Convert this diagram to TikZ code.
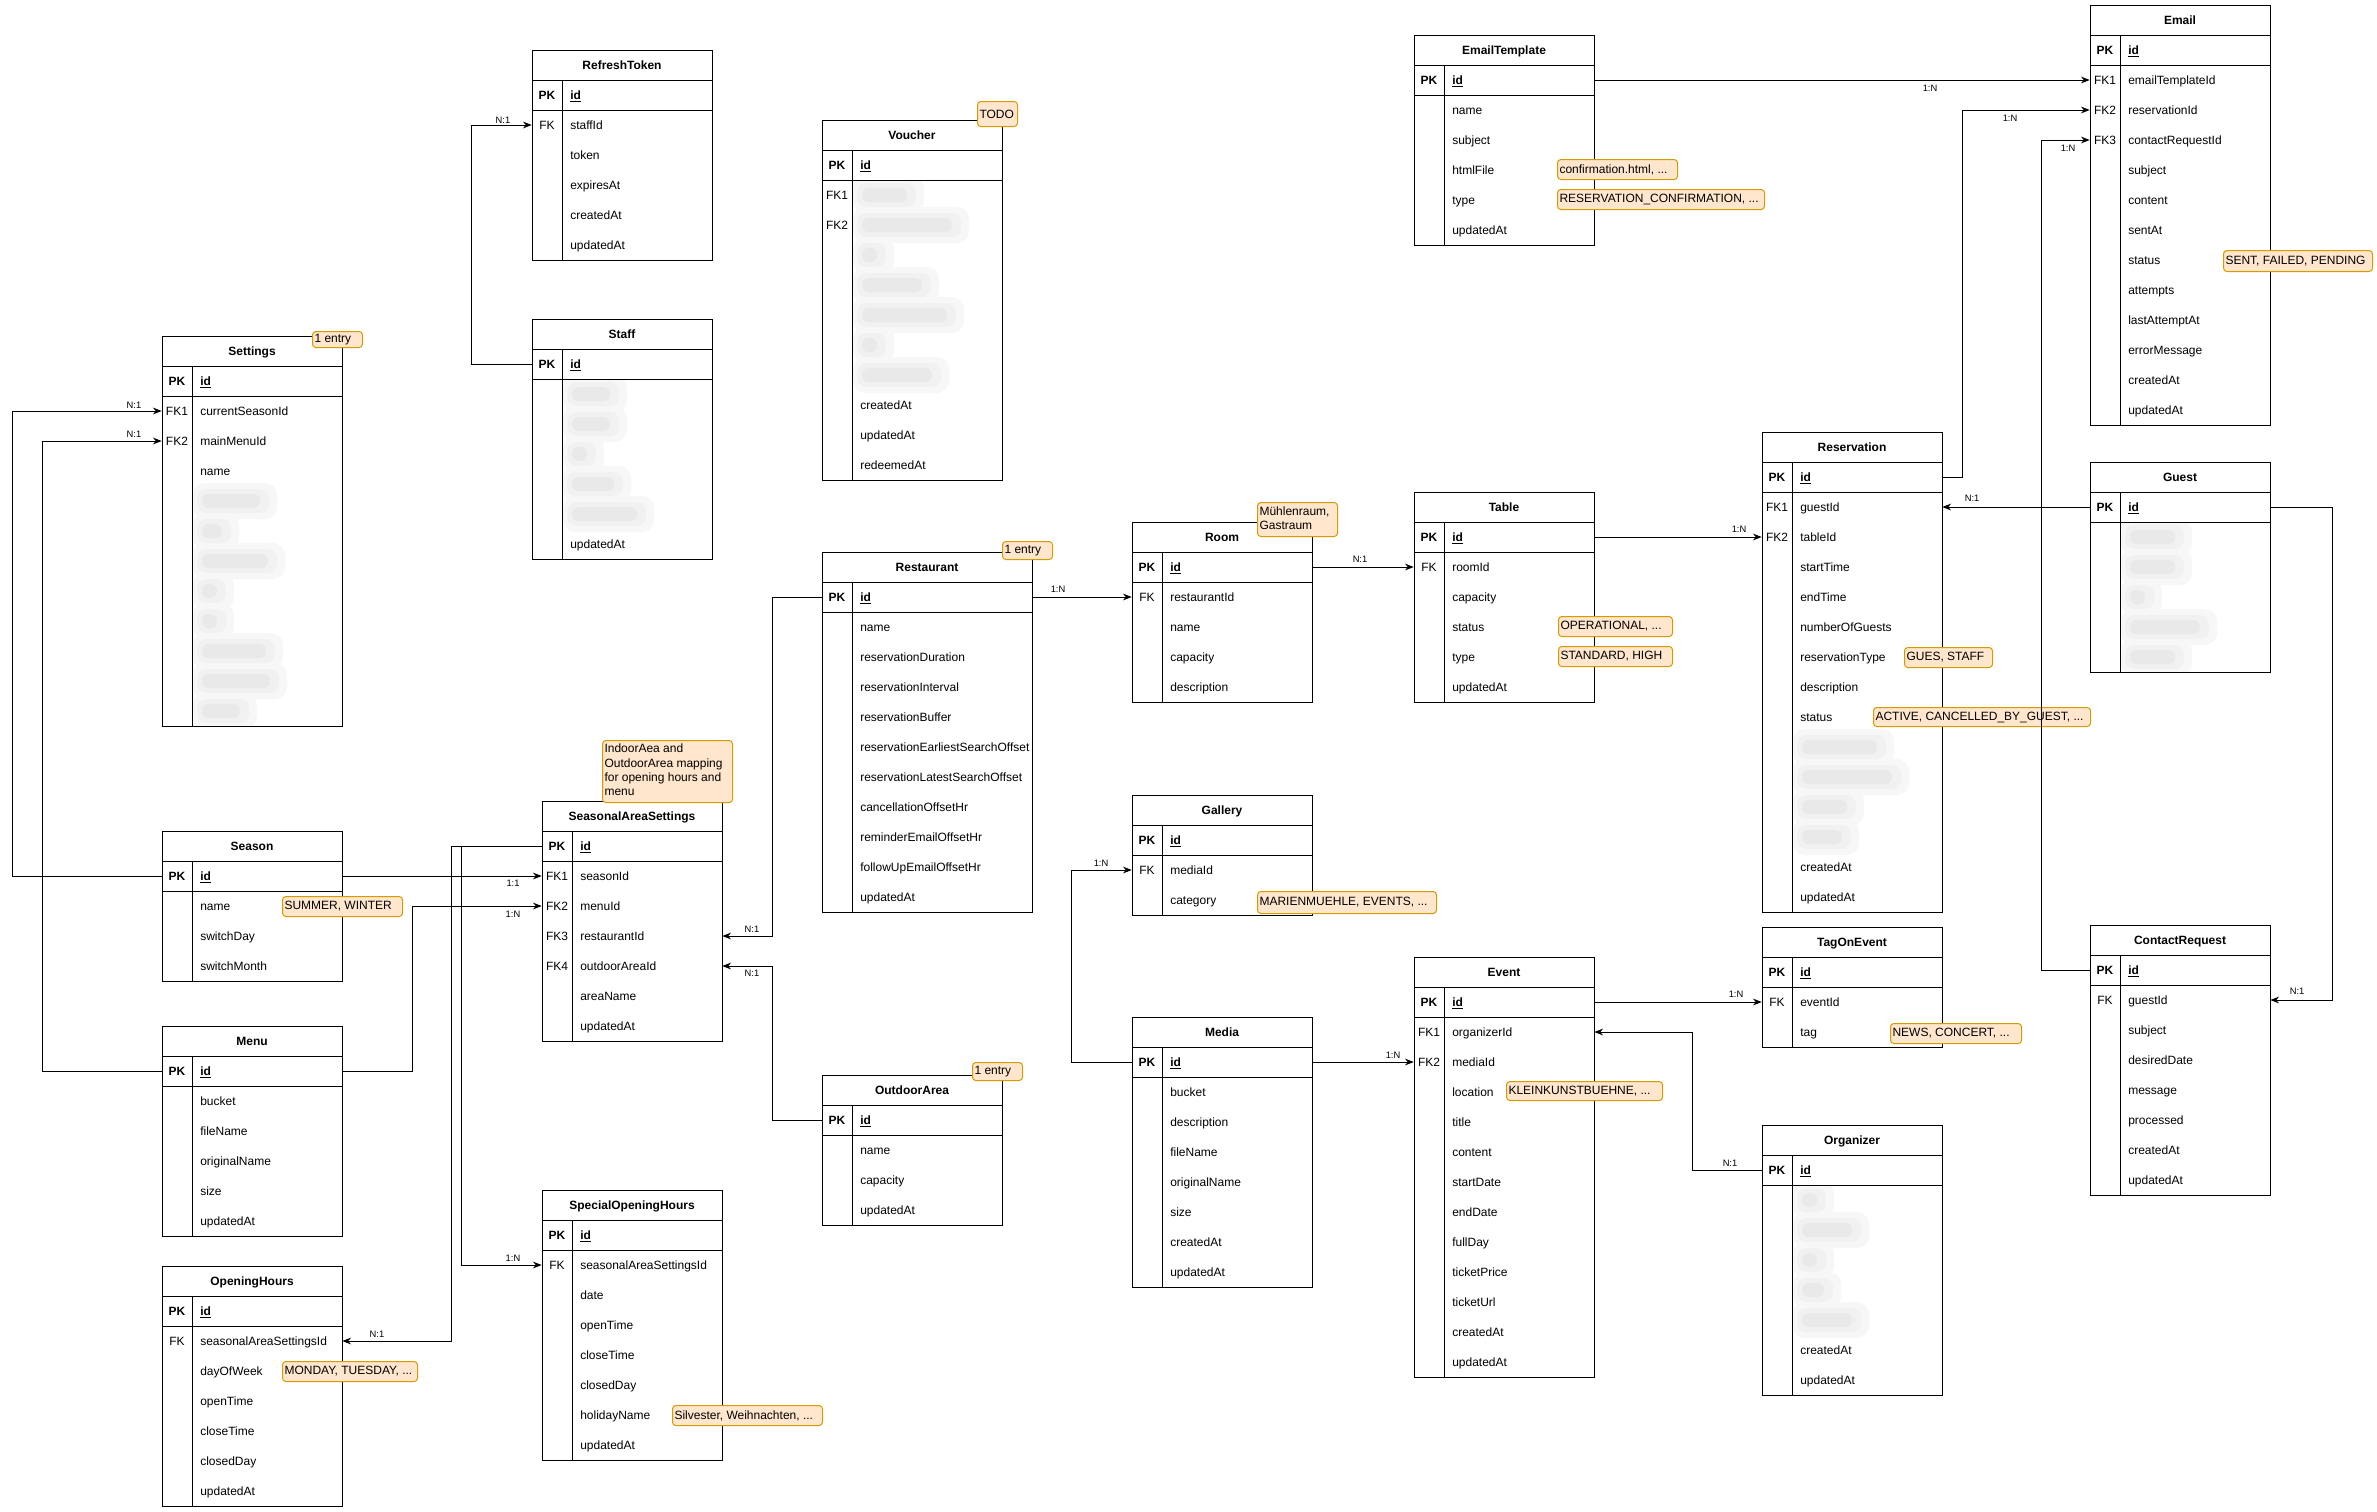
\documentclass[tikz,border=0pt]{standalone}
\usepackage{fontspec}
\setmainfont{Liberation Sans}
\usetikzlibrary{arrows.meta}
\definecolor{notefill}{HTML}{FFE6CC}
\definecolor{notedraw}{HTML}{D79B00}
\tikzset{
 tab/.style={draw=black, line width=0.75pt},
 hdr/.style={font=\fontsize{9}{10.8}\selectfont\bfseries, inner sep=0pt, anchor=base},
 keyt/.style={font=\fontsize{9}{10.8}\selectfont, inner sep=0pt, anchor=base},
 pkt/.style={font=\fontsize{9}{10.8}\selectfont\bfseries, inner sep=0pt, anchor=base},
 fldt/.style={font=\fontsize{9}{10.8}\selectfont, inner sep=0pt, anchor=base west},
 idt/.style={font=\fontsize{9}{10.8}\selectfont\bfseries, inner sep=0pt, anchor=base west},
 slot/.style={inner sep=0pt, minimum height=22.5pt, draw=none},
 conn/.style={draw, line width=0.75pt, -{Stealth[length=6.5pt,width=5pt,inset=2pt]}},
 lab/.style={font=\fontsize{7}{8}\selectfont, inner sep=0pt},
 note/.style={draw=notedraw, fill=notefill, line width=0.75pt, rounded corners=2.5pt,
   inner xsep=1.5pt, inner ysep=0pt, anchor=north west, font=\fontsize{9}{10.8}\selectfont},
 blobhalo/.style={fill=black!3, rounded corners=9pt},
 blobout/.style={fill=black!5.5, rounded corners=7pt},
 blobin/.style={fill=black!8.5, rounded corners=5pt},
}
\newcommand\ertab[6]{%
 \def\tn{#1}\def\tx{#2}\def\ty{#3}\def\tw{#4}%
 \pgfmathsetmacro\tabh{60+30*#5}%
 \pgfmathsetmacro\sw{#4*0.75}%
 \draw[tab] (#2,#3) rectangle ++(#4,\tabh);
 \draw[tab] (#2,#3+30) -- ++(#4,0) (#2,#3+60) -- ++(#4,0) (#2+30,#3+30) -- (#2+30,#3+\tabh);
 \node[hdr] (#1-h) at (#2+#4/2,#3+19.3) {#6};
 \node[pkt] (#1-pk) at (#2+15,#3+49.3) {PK};
 \node[idt] (#1-id) at (#2+38,#3+49.3) {\underline{id}};
 \foreach \i in {0,...,#5}{\node[slot, minimum width=\sw pt] (#1-\i) at (#2+#4/2,#3+45+30*\i) {};}
}
\newcommand\rows[1]{%
 \foreach \i/\k/\f in {#1}{%
  \node[keyt] (\tn-k\i) at (\tx+15,\ty+49.3+30*\i) {\k};
  \node[fldt] (\tn-f\i) at (\tx+38,\ty+49.3+30*\i) {\f};
 }}
\newcommand\blobs[1]{%
 \begin{scope}
 \clip (\tx+31,\ty+61) rectangle (\tx+\tw-1,\ty+\tabh-1);
 \foreach \i/\w in {#1}{%
  \fill[blobhalo] (\tx+31,\ty+45+30*\i-18) rectangle ++(\w+26,36);}
 \foreach \i/\w in {#1}{%
  \fill[blobout] (\tx+35,\ty+45+30*\i-12) rectangle ++(\w+14,24);}
 \foreach \i/\w in {#1}{%
  \fill[blobin] (\tx+40,\ty+45+30*\i-7) rectangle ++(\w,14);}
 \end{scope}
 }
\newcommand\note[6]{%
 \pgfmathsetmacro\nw{(#4-4)*0.75}\pgfmathsetmacro\nh{#5*0.75}%
 \node[note, minimum height=\nh pt] (#1) at (#2,#3) {\makebox[\nw pt][l]{#6}};}
\begin{document}
\begin{tikzpicture}[x=0.75pt,y=-0.75pt]
\fill[white] (0,0) rectangle (2377,1511);
\useasboundingbox (0,0) rectangle (2377,1511);

% ---------- tables ----------
\ertab{refreshtoken}{532}{50}{180}{5}{RefreshToken}
\rows{1/FK/staffId, 2/{}/token, 3/{}/expiresAt, 4/{}/createdAt, 5/{}/updatedAt}

\ertab{staff}{532}{319}{180}{6}{Staff}
\blobs{1/38, 2/38, 3/15, 4/42, 5/65}
\rows{6/{}/updatedAt}

\ertab{voucher}{822}{120}{180}{10}{Voucher}
\blobs{1/45, 2/90, 3/15, 4/60, 5/85, 6/15, 7/70}
\rows{1/FK1/{}, 2/FK2/{}, 8/{}/createdAt, 9/{}/updatedAt, 10/{}/redeemedAt}

\ertab{settings}{162}{336}{180}{11}{Settings}
\blobs{4/58, 5/20, 6/66, 7/15, 8/15, 9/64, 10/68, 11/38}
\rows{1/FK1/currentSeasonId, 2/FK2/mainMenuId, 3/{}/name}

\ertab{season}{162}{831}{180}{3}{Season}
\rows{1/{}/name, 2/{}/switchDay, 3/{}/switchMonth}

\ertab{menu}{162}{1026}{180}{5}{Menu}
\rows{1/{}/bucket, 2/{}/fileName, 3/{}/originalName, 4/{}/size, 5/{}/updatedAt}

\ertab{openinghours}{162}{1266}{180}{6}{OpeningHours}
\rows{1/FK/seasonalAreaSettingsId, 2/{}/dayOfWeek, 3/{}/openTime, 4/{}/closeTime, 5/{}/closedDay, 6/{}/updatedAt}

\ertab{sas}{542}{801}{180}{6}{SeasonalAreaSettings}
\rows{1/FK1/seasonId, 2/FK2/menuId, 3/FK3/restaurantId, 4/FK4/outdoorAreaId, 5/{}/areaName, 6/{}/updatedAt}

\ertab{soh}{542}{1190}{180}{7}{SpecialOpeningHours}
\rows{1/FK/seasonalAreaSettingsId, 2/{}/date, 3/{}/openTime, 4/{}/closeTime, 5/{}/closedDay, 6/{}/holidayName, 7/{}/updatedAt}

\ertab{restaurant}{822}{552}{210}{10}{Restaurant}
\rows{1/{}/name, 2/{}/reservationDuration, 3/{}/reservationInterval, 4/{}/reservationBuffer, 5/{}/reservationEarliestSearchOffset, 6/{}/reservationLatestSearchOffset, 7/{}/cancellationOffsetHr, 8/{}/reminderEmailOffsetHr, 9/{}/followUpEmailOffsetHr, 10/{}/updatedAt}

\ertab{outdoorarea}{822}{1075}{180}{3}{OutdoorArea}
\rows{1/{}/name, 2/{}/capacity, 3/{}/updatedAt}

\ertab{room}{1132}{522}{180}{4}{Room}
\rows{1/FK/restaurantId, 2/{}/name, 3/{}/capacity, 4/{}/description}

\ertab{gallery}{1132}{795}{180}{2}{Gallery}
\rows{1/FK/mediaId, 2/{}/category}

\ertab{media}{1132}{1017}{180}{7}{Media}
\rows{1/{}/bucket, 2/{}/description, 3/{}/fileName, 4/{}/originalName, 5/{}/size, 6/{}/createdAt, 7/{}/updatedAt}

\ertab{tbl}{1414}{492}{180}{5}{Table}
\rows{1/FK/roomId, 2/{}/capacity, 3/{}/status, 4/{}/type, 5/{}/updatedAt}

\ertab{emailtemplate}{1414}{35}{180}{5}{EmailTemplate}
\rows{1/{}/name, 2/{}/subject, 3/{}/htmlFile, 4/{}/type, 5/{}/updatedAt}

\ertab{event}{1414}{957}{180}{12}{Event}
\rows{1/FK1/organizerId, 2/FK2/mediaId, 3/{}/location, 4/{}/title, 5/{}/content, 6/{}/startDate, 7/{}/endDate, 8/{}/fullDay, 9/{}/ticketPrice, 10/{}/ticketUrl, 11/{}/createdAt, 12/{}/updatedAt}

\ertab{reservation}{1762}{432}{180}{14}{Reservation}
\blobs{9/75, 10/90, 11/45, 12/40}
\rows{1/FK1/guestId, 2/FK2/tableId, 3/{}/startTime, 4/{}/endTime, 5/{}/numberOfGuests, 6/{}/reservationType, 7/{}/description, 8/{}/status, 13/{}/createdAt, 14/{}/updatedAt}

\ertab{tagonevent}{1762}{927}{180}{2}{TagOnEvent}
\rows{1/FK/eventId, 2/{}/tag}

\ertab{organizer}{1762}{1125}{180}{7}{Organizer}
\blobs{1/15, 2/50, 3/15, 4/22, 5/50}
\rows{6/{}/createdAt, 7/{}/updatedAt}

\ertab{email}{2090}{5}{180}{12}{Email}
\rows{1/FK1/emailTemplateId, 2/FK2/reservationId, 3/FK3/contactRequestId, 4/{}/subject, 5/{}/content, 6/{}/sentAt, 7/{}/status, 8/{}/attempts, 9/{}/lastAttemptAt, 10/{}/errorMessage, 11/{}/createdAt, 12/{}/updatedAt}

\ertab{guest}{2090}{462}{180}{5}{Guest}
\blobs{1/45, 2/45, 3/15, 4/70, 5/45}

\ertab{contactrequest}{2090}{925}{180}{7}{ContactRequest}
\rows{1/FK/guestId, 2/{}/subject, 3/{}/desiredDate, 4/{}/message, 5/{}/processed, 6/{}/createdAt, 7/{}/updatedAt}

% ---------- notes ----------
\note{n1}{312}{331}{50}{16}{1 entry}
\note{n2}{977}{101}{40}{25}{TODO}
\note{n3}{1002}{541}{50}{18}{1 entry}
\note{n4}{972}{1062}{50}{18}{1 entry}
\note{n5}{1257}{502}{80}{34}{\begin{tabular}{@{}l@{}}Mühlenraum,\\Gastraum\end{tabular}}
\note{n6}{602}{740}{130}{62}{\begin{tabular}{@{}l@{}}IndoorAea and\\OutdoorArea mapping\\for opening hours and\\menu\end{tabular}}
\note{n7}{282}{896}{120}{20}{SUMMER, WINTER}
\note{n8}{282}{1361}{135}{20}{MONDAY, TUESDAY, ...}
\note{n9}{672}{1405}{150}{20}{Silvester, Weihnachten, ...}
\note{n10}{1557}{159}{120}{20}{confirmation.html, ...}
\note{n11}{1557}{189}{207}{20}{RESERVATION\_CONFIRMATION, ...}
\note{n12}{2223}{250}{149}{21}{SENT, FAILED, PENDING}
\note{n13}{1558}{616}{114}{20}{OPERATIONAL, ...}
\note{n14}{1558}{646}{114}{20}{STANDARD, HIGH}
\note{n15}{1904}{647}{88}{20}{GUES, STAFF}
\note{n16}{1873}{707}{217}{19}{ACTIVE, CANCELLED\_BY\_GUEST, ...}
\note{n17}{1257}{891}{179}{22}{MARIENMUEHLE, EVENTS, ...}
\note{n18}{1506}{1081}{156}{19}{KLEINKUNSTBUEHNE, ...}
\note{n19}{1890}{1023}{131}{20}{NEWS, CONCERT, ...}

% ---------- connectors ----------
\draw[conn] (staff-0.west) -- ++(-60,0) |- (refreshtoken-1.west);
\draw[conn] (season-0.west) -- ++(-149,0) |- (settings-1.west);
\draw[conn] (menu-0.west) -- ++(-119,0) |- (settings-2.west);
\draw[conn] (season-0.east) -- (sas-1.west);
\draw[conn] (menu-0.east) -- ++(70,0) |- (sas-2.west);
\draw[conn] (sas-0.west) -- ++(-90,0) |- (openinghours-1.east);
\draw[conn] (sas-0.west) -- ++(-80,0) |- (soh-1.west);
\draw[conn] (restaurant-0.west) -- ++(-49,0) |- (sas-3.east);
\draw[conn] (outdoorarea-0.west) -- ++(-49,0) |- (sas-4.east);
\draw[conn] (restaurant-0.east) -- (room-1.west);
\draw[conn] (room-0.east) -- (tbl-1.west);
\draw[conn] (tbl-0.east) -- (reservation-2.west);
\draw[conn] (reservation-0.east) -- ++(20,0) |- (email-2.west);
\draw[conn] (emailtemplate-0.east) -- (email-1.west);
\draw[conn] (contactrequest-0.west) -- ++(-48,0) |- (email-3.west);
\draw[conn] (guest-0.west) -- (reservation-1.east);
\draw[conn] (guest-0.east) -- ++(62,0) |- (contactrequest-1.east);
\draw[conn] (media-0.west) -- ++(-60,0) |- (gallery-1.west);
\draw[conn] (media-0.east) -- (event-2.west);
\draw[conn] (event-0.east) -- (tagonevent-1.west);
\draw[conn] (organizer-0.west) -- ++(-69,0) |- (event-1.east);

% ---------- connector labels ----------
\node[lab] (l1) at (134,405) {N:1};
\node[lab] (l2) at (134,434) {N:1};
\node[lab] (l3) at (503,120) {N:1};
\node[lab] (l4) at (513,883) {1:1};
\node[lab] (l5) at (513,914) {1:N};
\node[lab] (l6) at (513,1258) {1:N};
\node[lab] (l7) at (377,1334) {N:1};
\node[lab] (l8) at (752,929) {N:1};
\node[lab] (l9) at (752,973) {N:1};
\node[lab] (l10) at (1058,589) {1:N};
\node[lab] (l11) at (1360,559) {N:1};
\node[lab] (l12) at (1739,529) {1:N};
\node[lab] (l13) at (2010,118) {1:N};
\node[lab] (l14) at (1930,88) {1:N};
\node[lab] (l15) at (2068,148) {1:N};
\node[lab] (l16) at (1972,498) {N:1};
\node[lab] (l17) at (2297,991) {N:1};
\node[lab] (l18) at (1101,863) {1:N};
\node[lab] (l19) at (1393,1055) {1:N};
\node[lab] (l20) at (1736,994) {1:N};
\node[lab] (l21) at (1730,1163) {N:1};
\end{tikzpicture}
\end{document}
